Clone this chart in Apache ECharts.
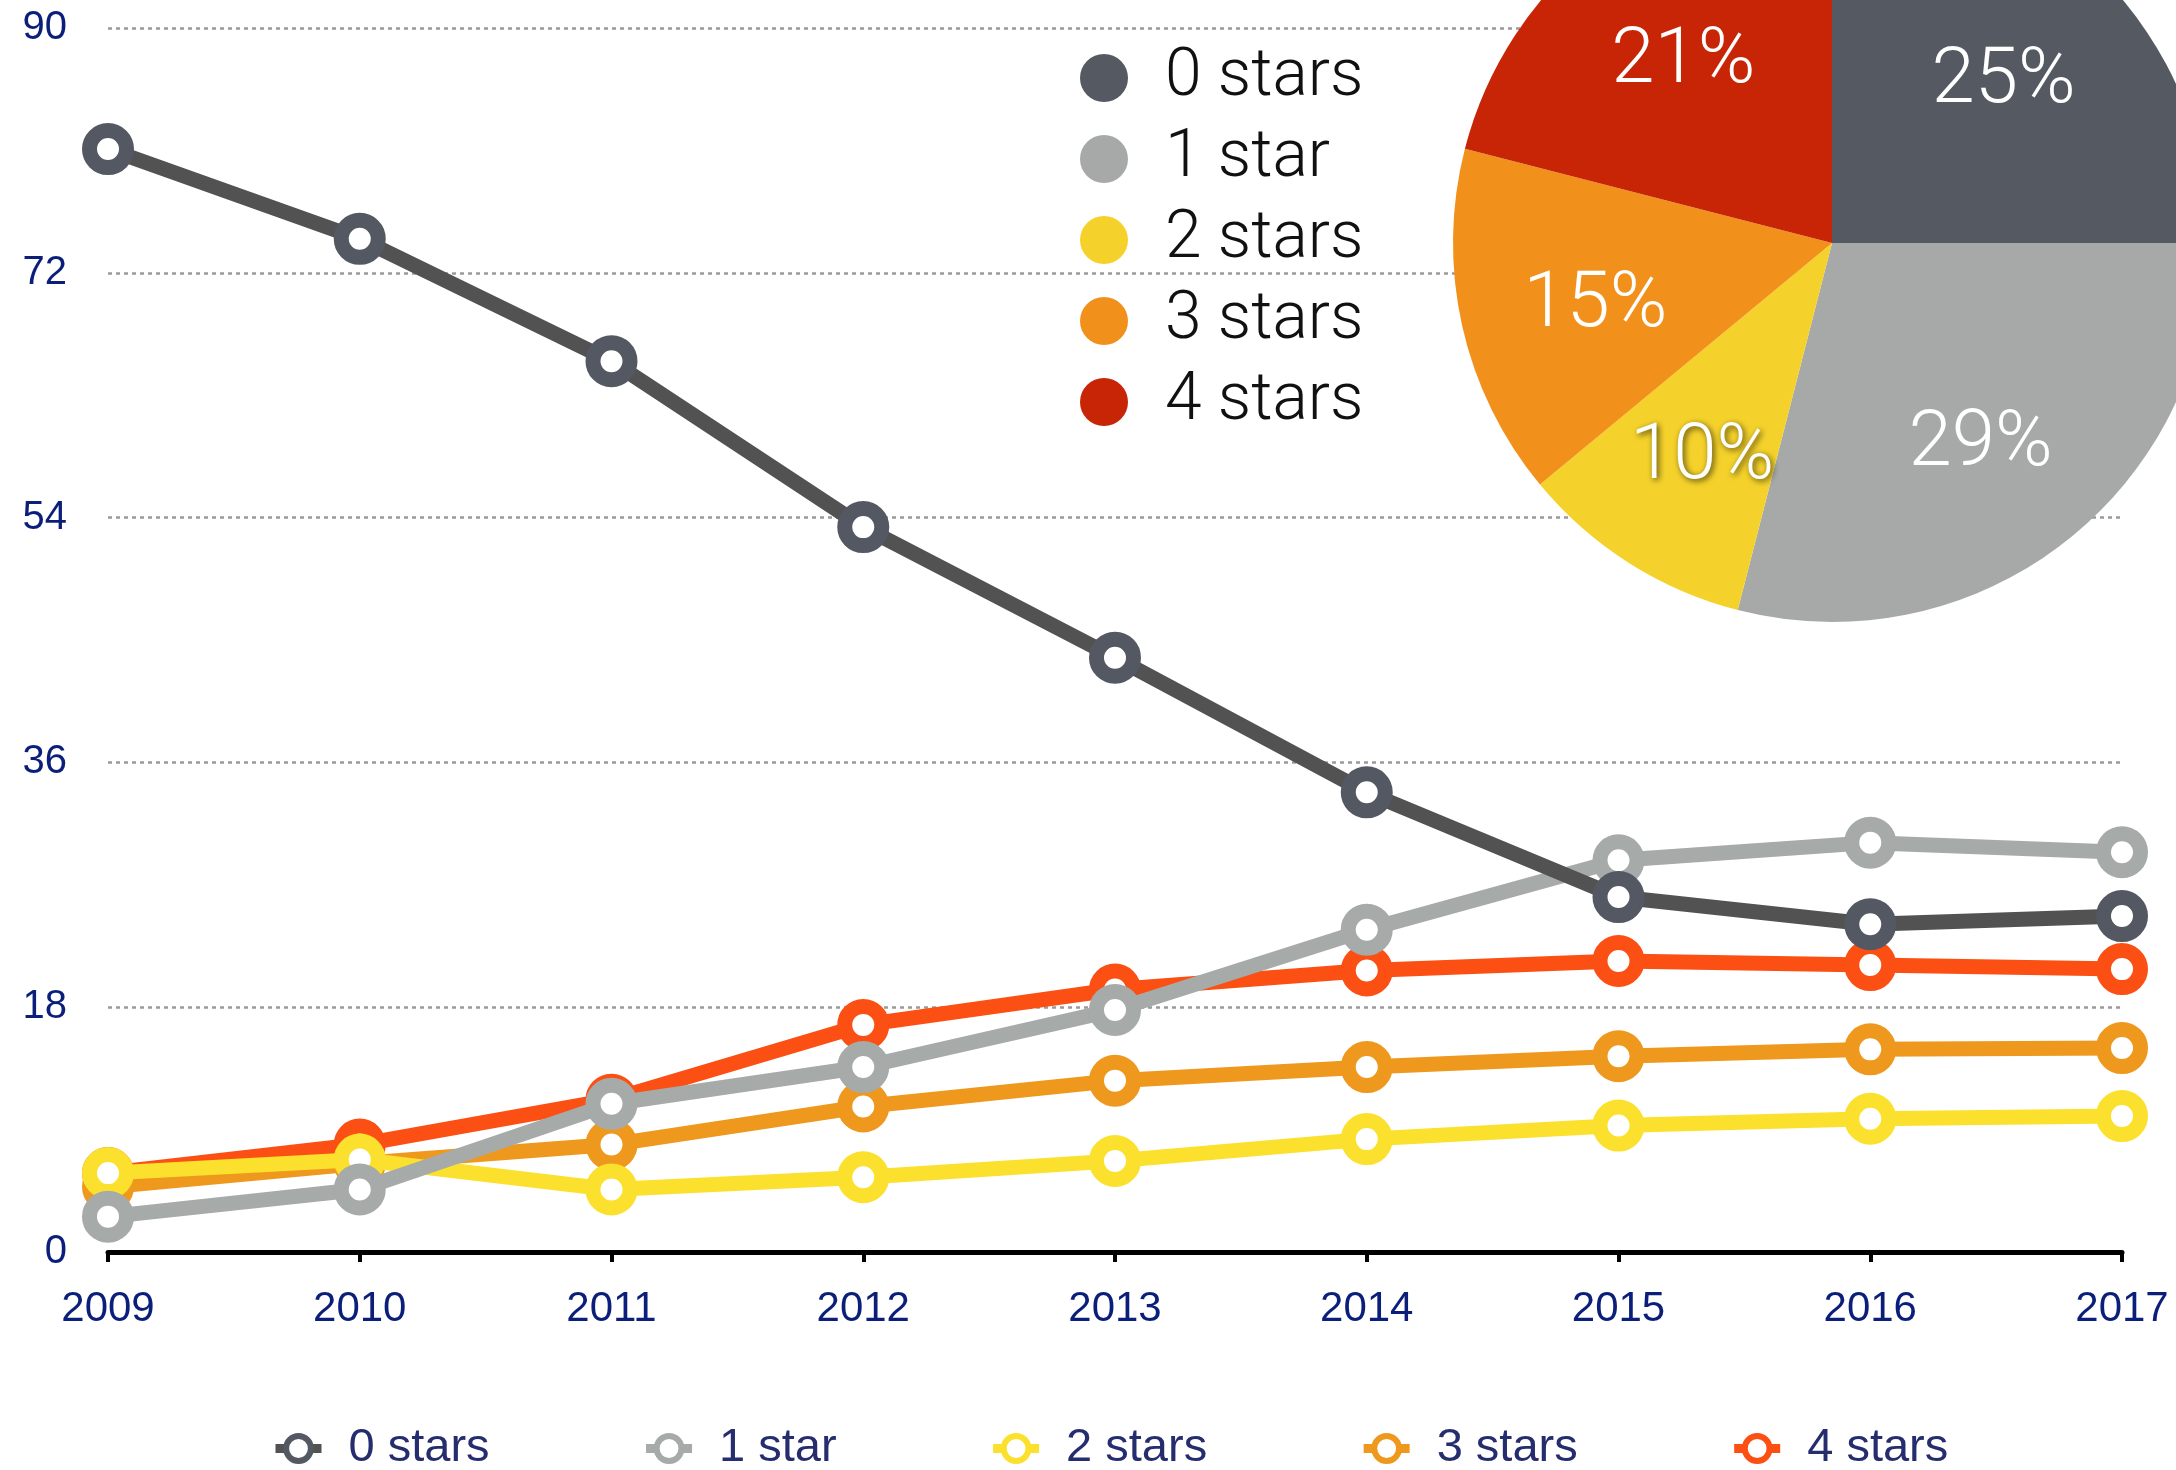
<!DOCTYPE html>
<html lang="en">
<head>
  <meta charset="utf-8">
  <style>
    html, body { margin: 0; height: 100%; background: #fff; }
    #chart { width: 2176px; height: 1470px; }
  </style>
</head>
<body>
  <div id="chart"></div>
  <script src="https://cdn.jsdelivr.net/npm/echarts@6/dist/echarts.min.js"></script>
  <script>
    // categories
    const years = ['2009', '2010', '2011', '2012', '2013', '2014', '2015', '2016', '2017'];
    const names = ['0 stars', '1 star', '2 stars', '3 stars', '4 stars'];
    // share per year (%)
    const stars0 = [81.1, 74.5, 65.5, 53.3, 43.7, 33.8, 26.1, 24.1, 24.7];
    const stars1 = [2.6, 4.6, 10.9, 13.6, 17.8, 23.7, 28.8, 30.1, 29.4];
    const stars2 = [5.8, 6.8, 4.6, 5.5, 6.7, 8.3, 9.3, 9.8, 10.0];
    const stars3 = [4.8, 6.5, 7.9, 10.7, 12.6, 13.6, 14.4, 14.9, 15.0];
    const stars4 = [5.8, 7.9, 11.2, 16.7, 19.3, 20.7, 21.4, 21.1, 20.8];
    // pie (2017)
    const share2017 = [25, 29, 10, 15, 21];
    // y ticks
    const yTicks = [0, 18, 36, 54, 72, 90];

    const lineData = [stars0, stars1, stars2, stars3, stars4];
    const lineColors = ['#525252', '#a6aaa8', '#fbe12e', '#ee981e', '#fb4f14'];
    const markerColors = ['#535862', '#a6aaa8', '#fbe12e', '#ee981e', '#fb4f14'];
    const pieColors = ['#545962', '#a6a9a8', '#f5d22b', '#f2901c', '#c72506'];

    const navy = '#0b1f7a';
    const thinFont = 'Roboto, "Open Sans", sans-serif';
    const plainFont = '"Liberation Sans", Arial, sans-serif';

    var chart = echarts.init(document.getElementById('chart'), null, { renderer: 'canvas' });

    var lineSeries = names.map(function (n, i) {
      return {
        name: n,
        type: 'line',
        data: lineData[i],
        z: 10 - i,
        symbol: 'circle',
        symbolSize: 37,
        lineStyle: { color: lineColors[i], width: 15 },
        itemStyle: { color: '#fff', borderColor: markerColors[i], borderWidth: 15 }
      };
    });

    var option = {
      animation: false,
      backgroundColor: '#fff',
      grid: { left: 108, right: 54, top: 28, bottom: 218 },
      legend: [
        {
          data: names.map(function (n, i) {
            return { name: n, itemStyle: { color: pieColors[i], borderWidth: 0 } };
          }),
          icon: 'circle',
          orient: 'vertical',
          left: 1075,
          top: 40,
          itemWidth: 48,
          itemHeight: 48,
          itemGap: 15,
          selectedMode: false,
          textStyle: {
            fontFamily: thinFont, fontSize: 66, fontWeight: 300, color: '#111',
            lineHeight: 64, padding: [0, 0, 0, 32]
          }
        },
        {
          data: names,
          orient: 'horizontal',
          left: 266,
          top: 1420,
          itemWidth: 46,
          itemHeight: 31,
          itemGap: 152,
          selectedMode: false,
          itemStyle: { borderWidth: 6 },
          lineStyle: { width: 9 },
          textStyle: {
            fontFamily: plainFont, fontSize: 47,
            color: '#262d6e', lineHeight: 46, padding: [0, 0, 0, 22]
          }
        }
      ],
      xAxis: {
        type: 'category',
        boundaryGap: false,
        data: years,
        axisLine: { lineStyle: { color: '#000', width: 5 } },
        axisTick: { show: true, length: 10, lineStyle: { color: '#000', width: 4 } },
        axisLabel: { margin: 36, fontSize: 42, color: navy, fontFamily: plainFont },
        splitLine: { show: false }
      },
      yAxis: {
        type: 'value',
        min: yTicks[0],
        max: yTicks[yTicks.length - 1],
        interval: yTicks[1] - yTicks[0],
        axisLine: { show: false },
        axisTick: { show: false },
        axisLabel: { margin: 41, fontSize: 40, color: navy, fontFamily: plainFont },
        splitLine: { lineStyle: { color: '#9a9a9a', width: 2.5, type: [4, 4] } }
      },
      series: lineSeries.concat([
        {
          name: 'share',
          type: 'pie',
          center: [1832, 243],
          radius: 379,
          startAngle: 90,
          clockwise: true,
          z: 3,
          label: { show: false },
          labelLine: { show: false },
          data: names.map(function (n, i) {
            return { name: n, value: share2017[i], itemStyle: { color: pieColors[i] } };
          })
        },
        {
          // transparent copy, only to place the labels further out
          name: 'shareLabels',
          type: 'pie',
          center: [1832, 243],
          radius: 479,
          startAngle: 90,
          clockwise: true,
          silent: true,
          z: 4,
          itemStyle: { color: 'rgba(0,0,0,0)' },
          labelLine: { show: false },
          label: {
            show: true, position: 'inside', formatter: '{d}%', offset: [0, 11],
            color: '#fff', fontSize: 78, fontWeight: 300, fontFamily: thinFont
          },
          data: names.map(function (n, i) {
            var item = { name: n, value: share2017[i] };
            if (i === 2) {
              item.label = {
                textShadowColor: 'rgba(0,0,0,0.7)', textShadowBlur: 6,
                textShadowOffsetX: 2, textShadowOffsetY: 2
              };
            }
            return item;
          })
        }
      ])
    };

    chart.setOption(option);
    window.addEventListener('resize', chart.resize);
  </script>
</body>
</html>
